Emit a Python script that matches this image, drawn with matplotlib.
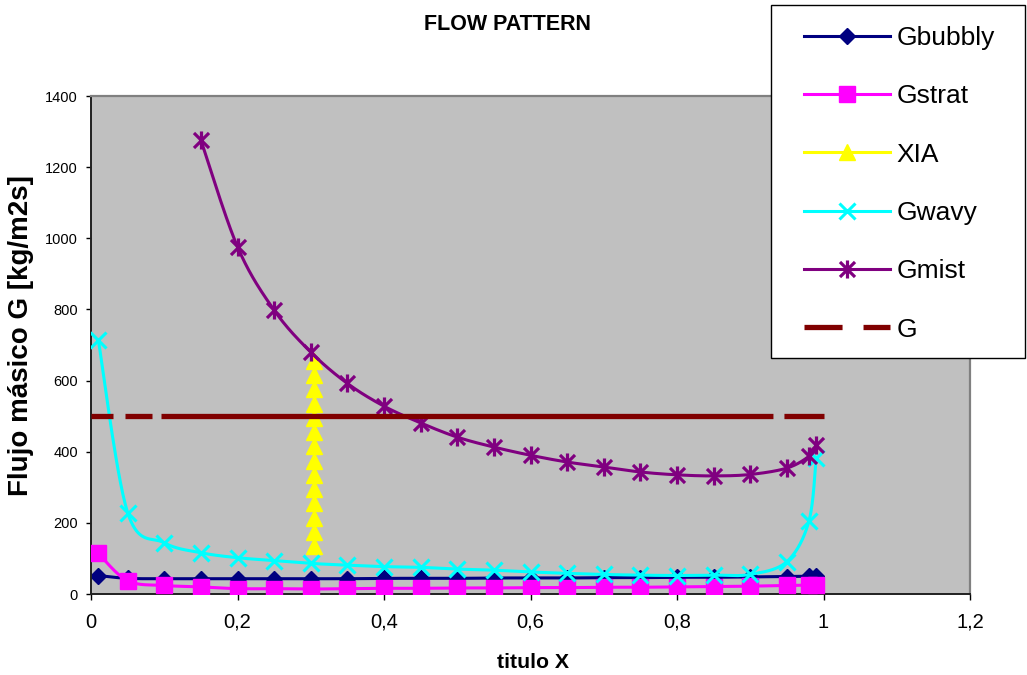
import numpy as np
import matplotlib
matplotlib.use("Agg")
import matplotlib.pyplot as plt
from matplotlib.lines import Line2D
from matplotlib.path import Path
from matplotlib.patches import Rectangle

plt.rcParams['font.family'] = ['Liberation Sans', 'DejaVu Sans']
plt.rcParams['lines.scale_dashes'] = False

# ---------------- data ----------------
x_main = [0.01, 0.05, 0.10, 0.15, 0.20, 0.25, 0.30, 0.35, 0.40, 0.45, 0.50,
          0.55, 0.60, 0.65, 0.70, 0.75, 0.80, 0.85, 0.90, 0.95, 0.98, 0.99]
g_bubbly = [52, 44, 43, 43, 43, 43, 43, 43, 44, 44, 44, 45, 45, 45, 46, 46,
            47, 47, 48, 49, 50, 50]
g_strat = [114, 37, 24, 20, 15, 15, 14, 15, 16, 16, 17, 17, 18, 18, 19, 19,
           20, 21, 22, 24, 25, 26]
g_wavy = [714, 229, 144, 116, 102, 94, 86, 81, 77, 75, 70, 67, 62, 58, 55,
          53, 52, 53, 55, 91, 204, 382]

x_mist = [0.15, 0.20, 0.25, 0.30, 0.35, 0.40, 0.45, 0.50, 0.55, 0.60, 0.65,
          0.70, 0.75, 0.80, 0.85, 0.90, 0.95, 0.98, 0.99]
g_mist = [1276, 976, 798, 680, 592, 528, 481, 441, 413, 390, 371, 357, 343,
          335, 332, 336, 354, 387, 418]

x_xia = [0.304] * 14
y_xia = [135, 175, 215, 255, 295, 335, 375, 415, 455, 495, 535, 575, 615, 655]

x_g = [0.0, 1.0]
y_g = [500, 500]

xticks = [0, 0.2, 0.4, 0.6, 0.8, 1.0, 1.2]
xtick_labels = ['0', '0,2', '0,4', '0,6', '0,8', '1', '1,2']
yticks = [0, 200, 400, 600, 800, 1000, 1200, 1400]

# ---------------- helpers ----------------
SX, SY = 732.5, 498 / 1400.0   # px per data unit (approx), used for smoothing shape


def smooth(xs, ys, n=30):
    P = np.column_stack([np.asarray(xs) * SX, np.asarray(ys) * SY])
    out = []
    m = len(P)
    t = np.linspace(0, 1, n)[:, None]
    for i in range(m - 1):
        p0 = P[i - 1] if i > 0 else P[i]
        p1 = P[i]
        p2 = P[i + 1]
        p3 = P[i + 2] if i + 2 < m else P[i + 1]
        c1 = p1 + (p2 - p0) / 6.0
        c2 = p2 - (p3 - p1) / 6.0
        seg = ((1 - t) ** 3) * p1 + 3 * ((1 - t) ** 2) * t * c1 + 3 * (1 - t) * t ** 2 * c2 + t ** 3 * p2
        out.append(seg if i == 0 else seg[1:])
    S = np.vstack(out)
    return S[:, 0] / SX, S[:, 1] / SY


star_path = Path([(-1, -1), (1, 1), (-1, 1), (1, -1), (0, -1.2), (0, 1.2)],
                 [Path.MOVETO, Path.LINETO, Path.MOVETO, Path.LINETO,
                  Path.MOVETO, Path.LINETO])

C_BUB = '#000080'
C_STR = '#FF00FF'
C_XIA = '#FFFF00'
C_WAV = '#00FFFF'
C_MIS = '#800080'
C_G = '#800000'
LW = 2.2

MS_D, MS_S, MS_T, MS_X, MS_ST = 8.5, 11.5, 11.5, 11, 13

# ---------------- figure ----------------
fig = plt.figure(figsize=(10.27, 6.75), dpi=100)
L, R, B, T = 91 / 1027, 970 / 1027, 1 - 594 / 675, 1 - 96 / 675
ax = fig.add_axes([L, B, R - L, T - B])
ax.set_facecolor('#C0C0C0')
ax.set_xlim(0, 1.2)
ax.set_ylim(0, 1400)

z = 2
# Gbubbly
sx, sy = smooth(x_main, g_bubbly)
ax.plot(sx, sy, color=C_BUB, lw=LW, zorder=z)
ax.plot(x_main, g_bubbly, ls='none', marker='D', ms=MS_D, mfc=C_BUB, mec=C_BUB, zorder=z)
z += 1
# Gstrat
sx, sy = smooth(x_main, g_strat)
ax.plot(sx, sy, color=C_STR, lw=LW, zorder=z)
ax.plot(x_main, g_strat, ls='none', marker='s', ms=MS_S, mfc=C_STR, mec=C_STR, zorder=z)
z += 1
# XIA
ax.plot(x_xia, y_xia, color=C_XIA, lw=LW, marker='^', ms=MS_T, mfc=C_XIA, mec=C_XIA, zorder=z)
z += 1
# Gwavy
sx, sy = smooth(x_main, g_wavy)
ax.plot(sx, sy, color=C_WAV, lw=LW, zorder=z)
ax.plot(x_main, g_wavy, ls='none', marker='x', ms=MS_X, mew=2.2, mec=C_WAV, zorder=z)
z += 1
# Gmist
sx, sy = smooth(x_mist, g_mist)
ax.plot(sx, sy, color=C_MIS, lw=LW, zorder=z)
ax.plot(x_mist, g_mist, ls='none', marker=star_path, ms=MS_ST, mew=2.3, mec=C_MIS, zorder=z)
z += 1
# G
dash_px = [22, 12, 27, 9, 612, 11, 42]
ax.plot(x_g, y_g, color=C_G, lw=3.8, dash_capstyle='butt',
        linestyle=(0, tuple(d / 1.389 for d in dash_px)), zorder=z)

# axes styling
for s in ['top', 'right']:
    ax.spines[s].set_color('#808080')
    ax.spines[s].set_linewidth(1.6)
for s in ['left', 'bottom']:
    ax.spines[s].set_color('#202020')
    ax.spines[s].set_linewidth(1.4)

ax.set_xticks(xticks)
ax.set_xticklabels(xtick_labels, fontsize=14.5)
ax.set_yticks(yticks)
ax.set_yticklabels([str(v) for v in yticks], fontsize=10.5)
ax.tick_params(axis='x', direction='out', length=4.5, width=1.0, pad=9, colors='black')
ax.tick_params(axis='y', direction='out', length=3.8, width=1.0, pad=5.5, colors='black')

fig.text(507 / 1027, 1 - 24 / 675, 'FLOW PATTERN', fontsize=15.5, fontweight='bold',
         ha='center', va='center')
fig.text(533 / 1027, 1 - 662 / 675, 'titulo X', fontsize=15.3, fontweight='bold',
         ha='center', va='center')
fig.text(21 / 1027, 1 - 336 / 675, 'Flujo másico G [kg/m2s]', fontsize=20, fontweight='bold',
         ha='center', va='center', rotation=90)

# legend
fig.patches.append(Rectangle((771 / 1027, 1 - 358 / 675), 254 / 1027, 353 / 675,
                             transform=fig.transFigure, facecolor='white',
                             edgecolor='black', linewidth=1.0, zorder=5))
handles = [
    Line2D([], [], color=C_BUB, lw=LW, marker='D', ms=MS_D, mfc=C_BUB, mec=C_BUB),
    Line2D([], [], color=C_STR, lw=LW, marker='s', ms=MS_S, mfc=C_STR, mec=C_STR),
    Line2D([], [], color=C_XIA, lw=LW, marker='^', ms=MS_T, mfc=C_XIA, mec=C_XIA),
    Line2D([], [], color=C_WAV, lw=LW, marker='x', ms=MS_X, mew=2.2, mec=C_WAV),
    Line2D([], [], color=C_MIS, lw=LW, marker=star_path, ms=MS_ST, mew=2.3, mec=C_MIS),
    Line2D([], [], color=C_G, lw=3.8, dash_capstyle='butt',
           linestyle=(0, (27.4, 15.1, 22.3))),
]
labels = ['Gbubbly', 'Gstrat', 'XIA', 'Gwavy', 'Gmist', 'G']
fs_leg = 19
leg = fig.legend(handles, labels, loc='upper left',
                 bbox_to_anchor=(804 / 1027, 1 - 26 / 675),
                 bbox_transform=fig.transFigure,
                 frameon=False, fontsize=fs_leg, borderpad=0, borderaxespad=0,
                 handlelength=62 / fs_leg, handletextpad=0.25, labelspacing=1.3)
leg.set_zorder(6)

fig.savefig('out.png', dpi=100)
